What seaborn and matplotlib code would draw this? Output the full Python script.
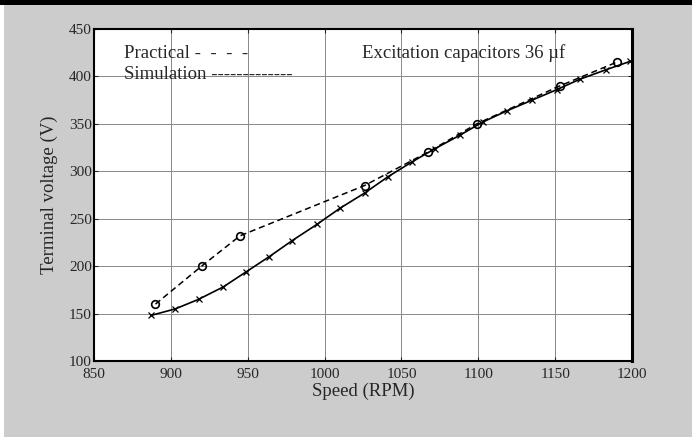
import matplotlib
matplotlib.use("Agg")
import matplotlib.pyplot as plt
from matplotlib.patches import Rectangle
import seaborn as sns
import pandas as pd

# Data
practical_speed = [890, 920, 945, 1026, 1067, 1099, 1153, 1190]
practical_voltage = [160, 200, 232, 285, 320, 350, 390, 415]

sim_speed = [887, 903, 918, 934, 949, 964, 979, 995, 1010, 1026, 1041,
             1057, 1072, 1088, 1103, 1119, 1135, 1151, 1166, 1183, 1199]
sim_voltage = [148, 155, 165, 178, 194, 210, 227, 244, 261, 277, 294,
               310, 324, 338, 352, 364, 375, 386, 397, 407, 416]

x_ticks = [850, 900, 950, 1000, 1050, 1100, 1150, 1200]
y_ticks = [100, 150, 200, 250, 300, 350, 400, 450]

sns.set_style("white")
plt.rcParams['font.family'] = ['Liberation Serif', 'DejaVu Serif']

fig = plt.figure(figsize=(6.92, 4.37), dpi=100)
fig.patch.set_facecolor('#cccccc')
W, H = 692, 437
# top black bar and left white strip
fig.add_artist(Rectangle((0, 1 - 5 / H), 1, 5 / H, transform=fig.transFigure,
                         facecolor='black', edgecolor='none', zorder=0))
fig.add_artist(Rectangle((0, 0), 4 / W, 1 - 5 / H, transform=fig.transFigure,
                         facecolor='white', edgecolor='none', zorder=0))

ax = fig.add_axes([94 / W, 1 - 361 / H, (632 - 94) / W, (361 - 29) / H])
ax.set_facecolor('white')

df_p = pd.DataFrame({'speed': practical_speed, 'voltage': practical_voltage})
df_s = pd.DataFrame({'speed': sim_speed, 'voltage': sim_voltage})

sns.lineplot(data=df_p, x='speed', y='voltage', ax=ax, color='black',
             linestyle=(0, (4, 2.5)), linewidth=1.1, marker='o', markersize=5.5,
             markerfacecolor='none', markeredgecolor='black', markeredgewidth=1.2,
             sort=False)
sns.lineplot(data=df_s, x='speed', y='voltage', ax=ax, color='black',
             linestyle='-', linewidth=1.2, marker='x', markersize=4,
             markeredgecolor='black', markeredgewidth=0.9, sort=False)

ax.set_xlim(850, 1200)
ax.set_ylim(100, 450)
ax.set_xticks(x_ticks)
ax.set_yticks(y_ticks)
ax.grid(True, color='#888888', linewidth=0.7, linestyle='-')
ax.tick_params(direction='in', length=3, width=0.8, labelsize=11,
               top=True, right=True, bottom=True, left=True,
               labeltop=False, labelright=False)
ax.tick_params(axis='x', pad=5)
ax.tick_params(axis='y', pad=1.5)
for s in ax.spines.values():
    s.set_visible(True)
    s.set_color('black')
    s.set_linewidth(1.5)
ax.spines['right'].set_linewidth(2.2)

ax.set_xlabel('Speed (RPM)', fontsize=13.5, labelpad=1)
ax.set_ylabel('Terminal voltage (V)', fontsize=13.5, labelpad=8)

ax.text(0.056, 0.925, 'Practical -  -  -  -', transform=ax.transAxes,
        fontsize=13.5, va='center', ha='left')
ax.text(0.056, 0.864, 'Simulation -------------', transform=ax.transAxes,
        fontsize=13.5, va='center', ha='left')
ax.text(0.498, 0.927, 'Excitation capacitors 36 \u00b5f', transform=ax.transAxes,
        fontsize=13.5, va='center', ha='left')

fig.savefig('out.png', dpi=100, facecolor=fig.get_facecolor())
